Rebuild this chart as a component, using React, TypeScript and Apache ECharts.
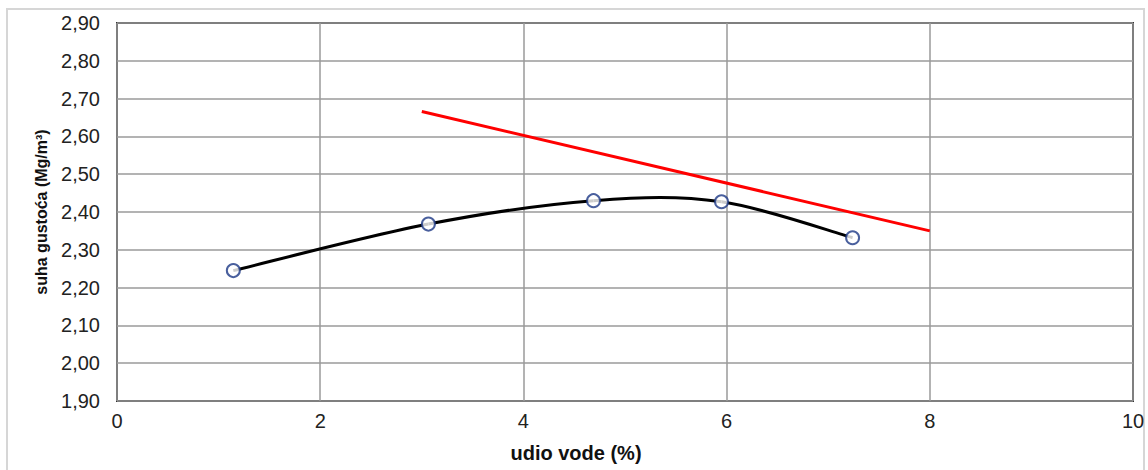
import React, { useEffect, useRef } from "react";
import * as echarts from "echarts";

const waterContent = [1.145, 3.065, 4.69, 5.95, 7.24];
const dryDensity = [2.245, 2.368, 2.43, 2.427, 2.332];
const redLineX = [3.0, 8.0];
const redLineY = [2.666, 2.35];
const xTicks = [0, 2, 4, 6, 8, 10];
const yTicks = [1.9, 2.0, 2.1, 2.2, 2.3, 2.4, 2.5, 2.6, 2.7, 2.8, 2.9];
const xTitle = "udio vode (%)";
const yTitle = "suha gustoća (Mg/m³)";

const FONT = "'Liberation Sans', Arial, sans-serif";

export default function App() {
  const ref = useRef<HTMLDivElement>(null);
  useEffect(() => {
    if (!ref.current) return;
    const chart = echarts.init(ref.current, null, { renderer: "svg" });
    const pts = waterContent.map((x, i) => [x, dryDensity[i]]);
    const red = redLineX.map((x, i) => [x, redLineY[i]]);
    chart.setOption({
      animation: false,
      backgroundColor: "#ffffff",
      grid: {
        left: 117,
        top: 23,
        right: 15,
        bottom: 69,
        show: true,
        borderColor: "#333333",
        borderWidth: 2,
        backgroundColor: "#ffffff",
      },
      xAxis: {
        type: "value",
        min: xTicks[0],
        max: xTicks[xTicks.length - 1],
        interval: 2,
        axisLine: { show: false },
        axisTick: { show: false },
        splitLine: { show: true, lineStyle: { color: "#9a9a9a", width: 1.5 } },
        axisLabel: {
          margin: 10,
          fontSize: 20,
          fontFamily: FONT,
          color: "#222",
          formatter: (v: number) => String(v),
        },
      },
      yAxis: {
        type: "value",
        min: yTicks[0],
        max: yTicks[yTicks.length - 1],
        interval: 0.1,
        axisLine: { show: false },
        axisTick: { show: false },
        splitLine: { show: true, lineStyle: { color: "#9a9a9a", width: 1.5 } },
        axisLabel: {
          margin: 17,
          fontSize: 20,
          fontFamily: FONT,
          color: "#222",
          formatter: (v: number) => v.toFixed(2).replace(".", ","),
        },
      },
      graphic: [
        {
          type: "rect",
          shape: { x: 7, y: 9, width: 1137, height: 480 },
          style: { fill: "none", stroke: "#d6d6d6", lineWidth: 2 },
          silent: true,
          z: -10,
        },
        {
          type: "text",
          x: 576,
          y: 453,
          style: {
            text: xTitle,
            font: `bold 20px ${FONT}`,
            fill: "#111",
            align: "center",
            verticalAlign: "middle",
          },
        },
        {
          type: "text",
          x: 41,
          y: 212,
          rotation: Math.PI / 2,
          style: {
            text: yTitle,
            font: `bold 16px ${FONT}`,
            fill: "#111",
            align: "center",
            verticalAlign: "middle",
          },
        },
      ],
      series: [
        {
          type: "line",
          data: red,
          showSymbol: false,
          symbol: "none",
          lineStyle: { color: "#ff0000", width: 3 },
          z: 3,
        },
        {
          type: "custom",
          data: pts,
          encode: { x: 0, y: 1 },
          z: 4,
          renderItem: (params: any, api: any) => {
            if (params.dataIndex !== 0) return null;
            const c = pts.map((p) => api.coord(p));
            const n = c.length;
            const children: any[] = [];
            for (let i = 0; i < n - 1; i++) {
              const p0 = c[Math.max(i - 1, 0)];
              const p1 = c[i];
              const p2 = c[i + 1];
              const p3 = c[Math.min(i + 2, n - 1)];
              children.push({
                type: "bezierCurve",
                shape: {
                  x1: p1[0],
                  y1: p1[1],
                  x2: p2[0],
                  y2: p2[1],
                  cpx1: p1[0] + (p2[0] - p0[0]) / 6,
                  cpy1: p1[1] + (p2[1] - p0[1]) / 6,
                  cpx2: p2[0] - (p3[0] - p1[0]) / 6,
                  cpy2: p2[1] - (p3[1] - p1[1]) / 6,
                },
                style: { stroke: "#000000", lineWidth: 3, fill: "none" },
              });
            }
            return { type: "group", children };
          },
        },
        {
          type: "scatter",
          data: pts,
          symbol: "circle",
          symbolSize: 13,
          itemStyle: { color: "#ffffff", borderColor: "#1c3785", borderWidth: 2 },
          z: 5,
        },
      ],
    });
    return () => chart.dispose();
  }, []);
  return (
    <div
      ref={ref}
      style={{ position: "absolute", left: 0, top: 0, width: 1148, height: 470 }}
    />
  );
}
